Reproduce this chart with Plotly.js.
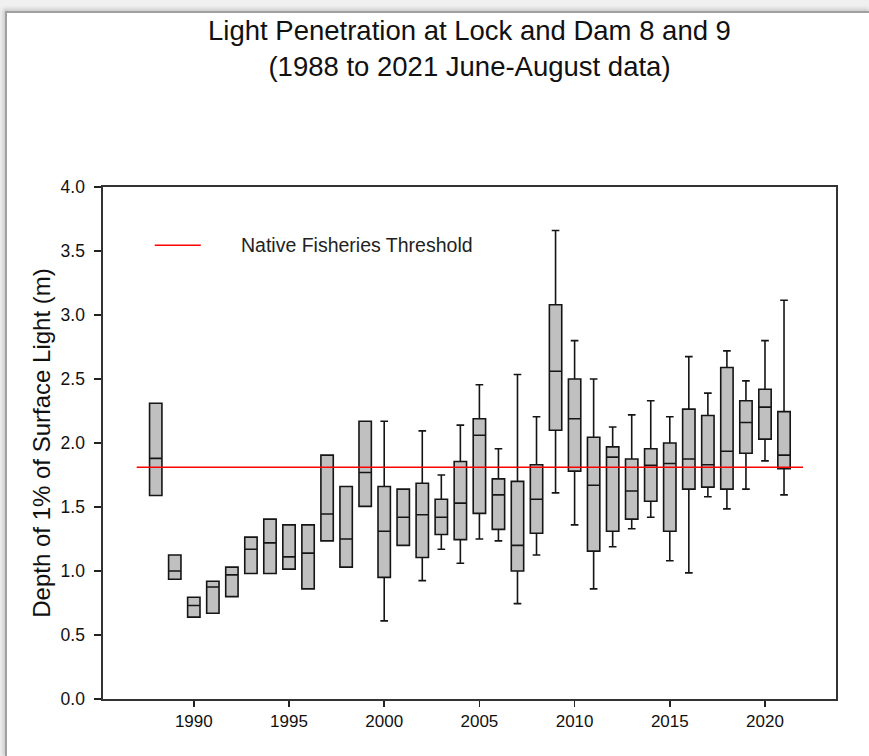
<!DOCTYPE html>
<html>
<head>
<meta charset="utf-8">
<script src="https://cdn.plot.ly/plotly-3.0.1.min.js"></script>
<style>
  html, body { margin: 0; padding: 0; background: #ffffff; overflow: hidden; }
  #frame { position: absolute; left: 0; top: 0; width: 869px; height: 756px; background: #f0f0f0; }
  #inner { position: absolute; left: 5px; top: 11px; width: 864px; height: 745px; background: #ffffff;
           border-left: 2px solid #a0a0a0; border-top: 2px solid #a0a0a0; box-shadow: -2px -2px 4px #c8c8c8; }
  #chart { position: absolute; left: 0; top: 0; width: 869px; height: 756px; }
</style>
</head>
<body>
<div id="frame"><div id="inner"></div></div>
<div id="chart"></div>
<script>
// ---- data ----
const years = [1988, 1989, 1990, 1991, 1992, 1993, 1994, 1995, 1996, 1997, 1998, 1999,
               2000, 2001, 2002, 2003, 2004, 2005, 2006, 2007, 2008, 2009, 2010,
               2011, 2012, 2013, 2014, 2015, 2016, 2017, 2018, 2019, 2020, 2021];
const lowerWhisker = [1.59, 0.935, 0.64, 0.67, 0.80, 0.98, 0.98, 1.015, 0.86, 1.235, 1.03, 1.505,
                      0.61, 1.20, 0.925, 1.17, 1.06, 1.25, 1.235, 0.745, 1.125, 1.61, 1.36,
                      0.86, 1.19, 1.33, 1.42, 1.08, 0.985, 1.58, 1.485, 1.64, 1.86, 1.595];
const q1 = [1.59, 0.935, 0.64, 0.67, 0.80, 0.98, 0.98, 1.015, 0.86, 1.235, 1.03, 1.505,
            0.95, 1.20, 1.105, 1.285, 1.245, 1.45, 1.325, 1.00, 1.295, 2.10, 1.78,
            1.155, 1.31, 1.405, 1.545, 1.31, 1.64, 1.655, 1.64, 1.92, 2.03, 1.80];
const medians = [1.88, 1.00, 0.73, 0.875, 0.97, 1.17, 1.22, 1.11, 1.14, 1.445, 1.25, 1.77,
                 1.31, 1.42, 1.44, 1.42, 1.53, 2.06, 1.595, 1.20, 1.56, 2.56, 2.19,
                 1.67, 1.89, 1.625, 1.825, 1.84, 1.875, 1.83, 1.935, 2.16, 2.28, 1.905];
const q3 = [2.31, 1.125, 0.795, 0.92, 1.03, 1.265, 1.405, 1.36, 1.36, 1.905, 1.66, 2.17,
            1.66, 1.64, 1.685, 1.56, 1.855, 2.19, 1.72, 1.70, 1.83, 3.08, 2.50,
            2.045, 1.97, 1.875, 1.955, 2.00, 2.265, 2.215, 2.59, 2.33, 2.42, 2.245];
const upperWhisker = [2.31, 1.125, 0.795, 0.92, 1.03, 1.265, 1.405, 1.36, 1.36, 1.905, 1.66, 2.17,
                      2.17, 1.64, 2.095, 1.75, 2.14, 2.455, 1.955, 2.535, 2.205, 3.66, 2.80,
                      2.50, 2.125, 2.22, 2.33, 2.205, 2.675, 2.39, 2.72, 2.485, 2.80, 3.115];

const thresholdName = "Native Fisheries Threshold";
const thresholdX = [1987, 2022];
const thresholdY = [1.81, 1.81];

const yTickVals = [0, 0.5, 1, 1.5, 2, 2.5, 3, 3.5, 4];
const xTickVals = [1990, 1995, 2000, 2005, 2010, 2015, 2020];

const titleText = "Light Penetration at Lock and Dam 8 and 9<br>(1988 to 2021 June-August data)";
const yTitle = "Depth of 1% of Surface Light (m)";

// ---- chart ----
const FONT = "Liberation Sans, Arial, sans-serif";

const boxTrace = {
  type: "box",
  x: years,
  q1: q1,
  median: medians,
  q3: q3,
  lowerfence: lowerWhisker,
  upperfence: upperWhisker,
  boxpoints: false,
  width: 0.65,
  whiskerwidth: 0.62,
  fillcolor: "#c0c0c0",
  line: { color: "#151515", width: 1.6 },
  showlegend: false,
  hoverinfo: "skip"
};

const lineTrace = {
  type: "scatter",
  mode: "lines",
  name: thresholdName,
  x: thresholdX,
  y: thresholdY,
  line: { color: "#ff0000", width: 1.6 },
  showlegend: false
};

const layout = {
  width: 869,
  height: 756,
  paper_bgcolor: "rgba(0,0,0,0)",
  plot_bgcolor: "#ffffff",
  margin: { l: 103, r: 33, t: 187, b: 57, pad: 0 },
  font: { family: FONT, color: "#111111" },
  title: {
    text: titleText,
    font: { family: FONT, size: 27.5, color: "#111111" },
    xref: "paper", x: 0.5, xanchor: "center",
    yref: "container", y: 1 - 40 / 756, yanchor: "top"
  },
  xaxis: {
    range: [1985.23, 2023.73],
    tickmode: "array",
    tickvals: xTickVals,
    ticktext: xTickVals.map(String),
    ticks: "outside", ticklen: 6, tickwidth: 1.5, tickcolor: "#222",
    showline: true, linecolor: "#333", linewidth: 1.6, mirror: true,
    showgrid: false, zeroline: false,
    tickfont: { family: FONT, size: 17, color: "#111" }
  },
  yaxis: {
    range: [0, 4],
    tickmode: "array",
    tickvals: yTickVals,
    ticktext: yTickVals.map(v => v.toFixed(1)),
    ticks: "outside", ticklen: 7, tickwidth: 1.5, tickcolor: "#222",
    ticklabelstandoff: 6,
    showline: true, linecolor: "#333", linewidth: 1.6, mirror: true,
    showgrid: false, zeroline: false,
    tickfont: { family: FONT, size: 17.5, color: "#111" },
    title: { text: yTitle, font: { family: FONT, size: 24, color: "#111" }, standoff: 3 }
  },
  shapes: [
    { type: "line", xref: "paper", yref: "paper",
      x0: (155 - 103.3) / 732.4, x1: (201 - 103.3) / 732.4,
      y0: (699.3 - 245) / 512.6, y1: (699.3 - 245) / 512.6,
      line: { color: "#ff0000", width: 1.6 } }
  ],
  annotations: [
    { xref: "paper", yref: "paper", x: (239 - 103.3) / 732.4, y: (699.3 - 245) / 512.6,
      xanchor: "left", yanchor: "middle", showarrow: false,
      text: thresholdName, font: { family: FONT, size: 19.5, color: "#222" } }
  ]
};

Plotly.newPlot("chart", [boxTrace, lineTrace], layout, { displayModeBar: false, staticPlot: true });
</script>
</body>
</html>
